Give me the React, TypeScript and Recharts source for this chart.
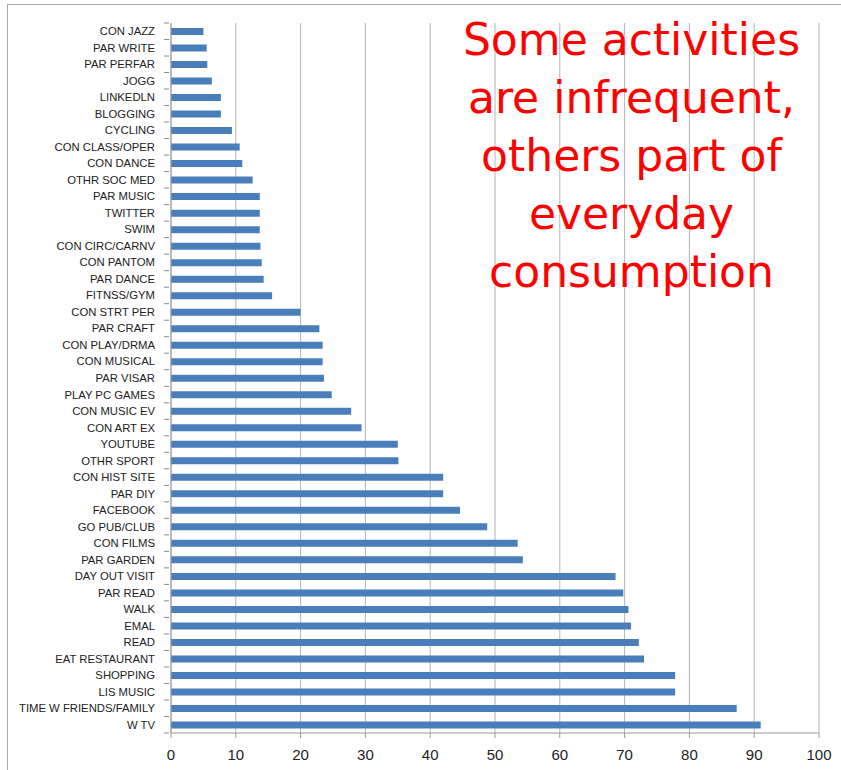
import React from "react";
import { BarChart, Bar, XAxis, YAxis, CartesianGrid } from "recharts";

// categories top to bottom, as listed in the chart
const activities = [
  "CON JAZZ", "PAR WRITE", "PAR PERFAR", "JOGG", "LINKEDLN", "BLOGGING", "CYCLING",
  "CON CLASS/OPER", "CON DANCE", "OTHR SOC MED", "PAR MUSIC", "TWITTER", "SWIM",
  "CON CIRC/CARNV", "CON PANTOM", "PAR DANCE", "FITNSS/GYM", "CON STRT PER", "PAR CRAFT",
  "CON PLAY/DRMA", "CON MUSICAL", "PAR VISAR", "PLAY PC GAMES", "CON MUSIC EV", "CON ART EX",
  "YOUTUBE", "OTHR SPORT", "CON HIST SITE", "PAR DIY", "FACEBOOK", "GO PUB/CLUB", "CON FILMS",
  "PAR GARDEN", "DAY OUT VISIT", "PAR READ", "WALK", "EMAL", "READ", "EAT RESTAURANT",
  "SHOPPING", "LIS MUSIC", "TIME W FRIENDS/FAMILY", "W TV",
];

const percentages = [
  5.0, 5.5, 5.6, 6.3, 7.7, 7.7, 9.4,
  10.6, 11.0, 12.6, 13.7, 13.7, 13.7,
  13.8, 14.0, 14.3, 15.6, 20.0, 22.9,
  23.4, 23.4, 23.6, 24.8, 27.8, 29.4,
  35.0, 35.1, 42.0, 42.0, 44.6, 48.8, 53.5,
  54.3, 68.6, 69.8, 70.6, 71.0, 72.2, 73.0,
  77.8, 77.8, 87.3, 91.0,
];

const xTicks = [0, 10, 20, 30, 40, 50, 60, 70, 80, 90, 100];

const noteLines = ["Some activities", "are infrequent,", "others part of", "everyday", "consumption"];

const data = activities.map((name, i) => ({ name, value: percentages[i] }));

const W = 841;
const H = 770;
const TOP = 23;
const X_AXIS_H = 37;
const BAND = (H - TOP - X_AXIS_H) / activities.length;

const CategoryTick = (props: any) => {
  const { x, y, payload, index } = props;
  const last = index === activities.length - 1;
  return (
    <g>
      <line x1={x + 8} x2={x + 13} y1={y - BAND / 2} y2={y - BAND / 2} stroke="#888" />
      {last && <line x1={x + 8} x2={x + 13} y1={y + BAND / 2} y2={y + BAND / 2} stroke="#888" />}
      <text x={x - 1} y={y} dy={4} textAnchor="end" fontSize={11.3} fill="#222"
        fontFamily="'Liberation Sans', Arial, sans-serif">
        {payload.value}
      </text>
    </g>
  );
};

export default function App() {
  return (
    <div style={{ position: "absolute", left: 0, top: 0, width: W, height: H, background: "#fff", overflow: "hidden" }}>
      <div style={{ position: "absolute", left: 7, top: 4, right: 0, bottom: 0, borderTop: "1.5px solid #aaa", borderLeft: "1.5px solid #aaa" }} />
      <BarChart
        width={W}
        height={H}
        data={data}
        layout="vertical"
        margin={{ top: TOP, right: 22, bottom: 0, left: 0 }}
        barSize={7}
      >
        <CartesianGrid horizontal={false} stroke="#b5b5b5" />
        <XAxis
          type="number"
          domain={[0, 100]}
          ticks={xTicks}
          interval={0}
          height={X_AXIS_H}
          axisLine={{ stroke: "#999" }}
          tickLine={{ stroke: "#999" }}
          tickSize={5}
          tick={{ fontSize: 15, fill: "#222", fontFamily: "'Liberation Sans', Arial, sans-serif", dy: 9 }}
        />
        <YAxis
          type="category"
          dataKey="name"
          width={171}
          interval={0}
          axisLine={{ stroke: "#999" }}
          tickLine={false}
          tickSize={13}
          tick={<CategoryTick />}
        />
        <Bar dataKey="value" fill="#4a7ebb" isAnimationActive={false} />
      </BarChart>
      <div
        style={{
          position: "absolute",
          left: 431,
          top: 11,
          width: 401,
          textAlign: "center",
          color: "#ff0000",
          fontFamily: "'DejaVu Sans', sans-serif",
          fontSize: 44,
          lineHeight: "58px",
        }}
      >
        {noteLines.map((l) => (
          <div key={l}>{l}</div>
        ))}
      </div>
    </div>
  );
}
